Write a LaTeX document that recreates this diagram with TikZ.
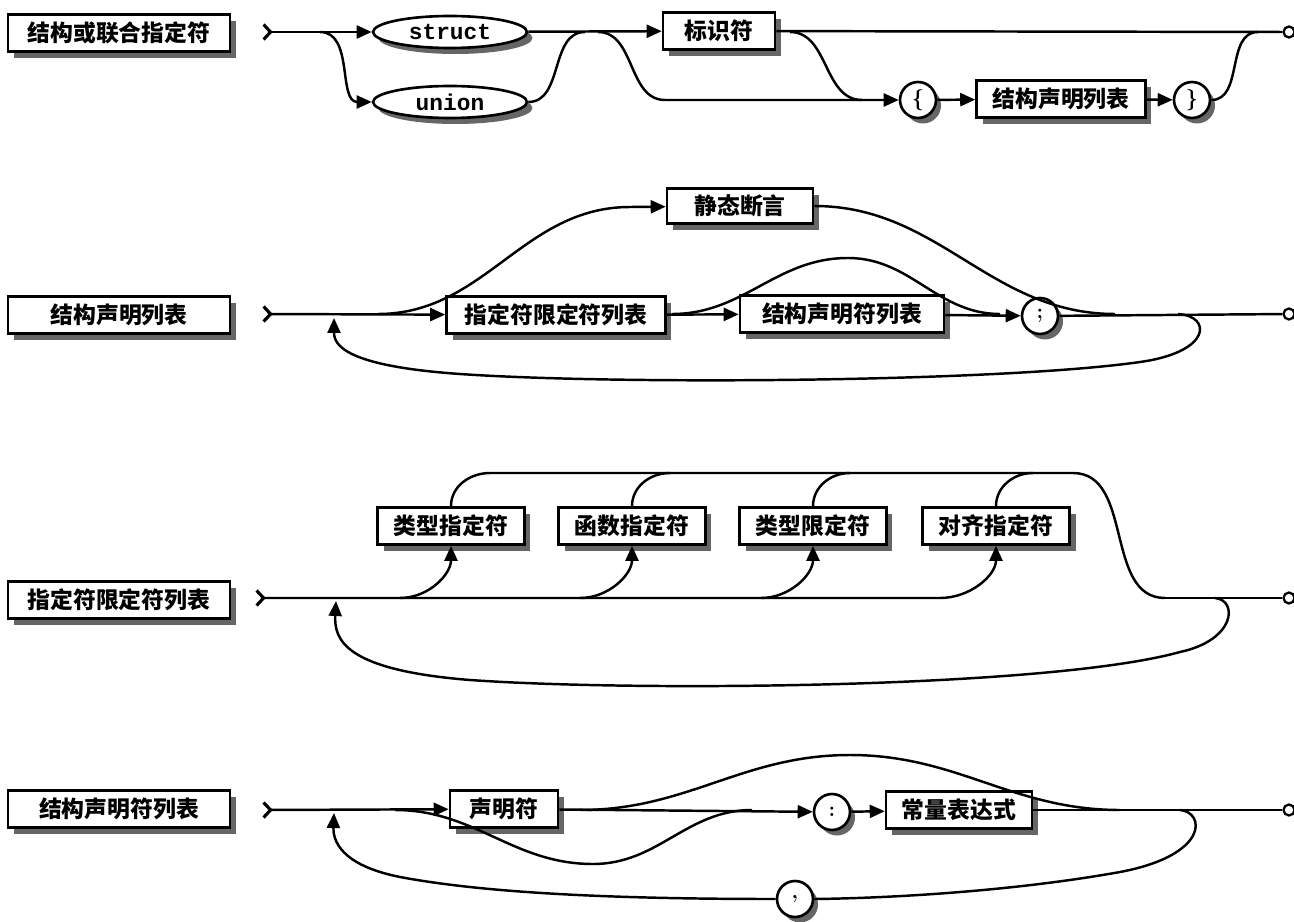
\documentclass[tikz,border=0pt]{standalone}
\usepackage{fontspec}
\usepackage{tikz}
\usetikzlibrary{arrows.meta, shapes.geometric, shadows}
\newfontfamily\cjk{Noto Sans CJK SC}
\setmonofont{Liberation Mono}
\tikzstyle{nonterm} = [rectangle, draw, line width=1.5pt, fill=white,
  minimum height=0.74cm, inner sep=2pt, font=\cjk\bfseries\fontsize{13}{15}\selectfont,
  drop shadow={shadow xshift=0.12cm, shadow yshift=-0.13cm, fill=black!60, opacity=1}]
\tikzstyle{kw} = [ellipse, draw, line width=1.5pt, fill=white,
  minimum width=3.08cm, minimum height=0.64cm, inner sep=0pt,
  font=\ttfamily\bfseries\fontsize{13}{15}\selectfont,
  drop shadow={shadow xshift=0.11cm, shadow yshift=-0.12cm, fill=black!60, opacity=1}]
\tikzstyle{tok} = [circle, draw, line width=1.5pt, fill=white,
  minimum size=0.72cm, inner sep=0pt, font=\bfseries\fontsize{12}{14}\selectfont,
  drop shadow={shadow xshift=0.1cm, shadow yshift=-0.11cm, fill=black!60, opacity=1}]
\tikzstyle{endmark} = [circle, draw, line width=1.3pt, fill=white,
  minimum size=0.22cm, inner sep=0pt]
\tikzstyle{conn} = [line width=1.4pt]
\tikzstyle{arrow} = [line width=1.4pt, -{Triangle[length=3mm,width=2.6mm]}]
\tikzstyle{startline} = [line width=1.4pt,
  {Straight Barb[reversed,length=1.4mm,width=3mm,line width=1.8pt]}-{Triangle[length=3mm,width=2.6mm]}]

\begin{document}
\begin{tikzpicture}[x=0.02cm, y=-0.02cm]
  \useasboundingbox (0,0) rectangle (1294,922);

  % struct-or-union-specifier
  \node[nonterm, minimum width=4.44cm] (t1) at (119,33) {结构或联合指定符};
  \node[kw] (struct) at (450,32) {struct};
  \node[kw] (union) at (450,102) {union};
  \node[nonterm, minimum width=2.24cm] (ident) at (719,31) {标识符};
  \node[tok] (lbrace) at (918,100) {\{};
  \node[nonterm, minimum width=3.38cm] (sdl1) at (1061,99) {结构声明列表};
  \node[tok] (rbrace) at (1192,100) {\}};
  \node[endmark] (e1) at (1289,32) {};
  \coordinate (s1) at (262,32);
  \coordinate (b1) at (320,32);
  \coordinate (j1) at (585,32);
  \coordinate (b2) at (598,32);
  \coordinate (c2) at (665,100);
  \coordinate (b3) at (790,32);
  \coordinate (j2) at (862,100);
  \coordinate (j3) at (1258,32);
  \draw[startline] (s1) -- (struct);
  \draw[arrow] (b1) to[out=0,in=180] (union.west);
  \draw[arrow] (struct) -- (ident);
  \draw[conn] (union.east) to[out=0,in=180] (j1);
  \draw[arrow] (b2) to[out=0,in=180] (c2) -- (lbrace);
  \draw[conn] (ident) -- (e1);
  \draw[conn] (b3) to[out=0,in=180] (j2);
  \draw[arrow] (lbrace) -- (sdl1);
  \draw[arrow] (sdl1) -- (rbrace);
  \draw[conn] (rbrace.east) to[out=0,in=180] (j3);

  % struct-declaration-list
  \node[nonterm, minimum width=4.44cm] (t2) at (119,315) {结构声明列表};
  \node[nonterm, minimum width=4.38cm] (sql2) at (556,315) {指定符限定符列表};
  \node[nonterm, minimum width=2.92cm, minimum height=0.7cm] (sa) at (740,206) {静态断言};
  \node[nonterm, minimum width=4.08cm] (sdcl2) at (842,314) {结构声明符列表};
  \node[tok] (semi) at (1040,316) {;};
  \node[endmark] (e2) at (1289,314) {};
  \coordinate (s2) at (262,314);
  \coordinate (b4) at (378,314);
  \coordinate (c4) at (630,207);
  \coordinate (j4) at (1115,314);
  \coordinate (b5) at (672,314);
  \coordinate (top5) at (848,258);
  \coordinate (j5) at (1000,314);
  \coordinate (lp2) at (1178,314);
  \coordinate (r2) at (334,318);
  \draw[startline] (s2) -- (sql2);
  \draw[arrow] (b4) to[out=0,in=180] (c4) -- (sa);
  \draw[conn] (sa.east) to[out=0,in=180] (j4);
  \draw[arrow] (sql2) -- (sdcl2);
  \draw[conn] (b5) to[out=0,in=180] (top5) to[out=0,in=180] (j5);
  \draw[arrow] (sdcl2) -- (semi);
  \draw[conn] (semi) -- (e2);
  \draw[arrow] (lp2) .. controls (1212,316) and (1212,352) .. (1140,362)
    .. controls (1000,382) and (620,385) .. (460,374)
    .. controls (345,366) and (334,345) .. (r2);

  % specifier-qualifier-list
  \node[nonterm, minimum width=4.44cm] (t3) at (119,600) {指定符限定符列表};
  \node[nonterm, minimum width=2.94cm] (ts) at (451,526) {类型指定符};
  \node[nonterm, minimum width=2.94cm] (fs) at (632,526) {函数指定符};
  \node[nonterm, minimum width=2.94cm] (tq) at (813,526) {类型限定符};
  \node[nonterm, minimum width=2.94cm] (as) at (996,526) {对齐指定符};
  \node[endmark] (e3) at (1289,598) {};
  \coordinate (s3) at (255,598);
  \coordinate (b6) at (400,598);
  \coordinate (b7) at (580,598);
  \coordinate (b8) at (761,598);
  \coordinate (b9) at (940,598);
  \coordinate (k1) at (490,473);
  \coordinate (k2) at (670,473);
  \coordinate (k3) at (850,473);
  \coordinate (k4) at (1033,473);
  \coordinate (k5) at (1073,473);
  \coordinate (j6) at (1165,598);
  \coordinate (lp3) at (1215,598);
  \coordinate (r3) at (336,601);
  \draw[startline] (s3) -- (b9) to[out=0,in=-90] (as.south);
  \draw[arrow] (b6) to[out=0,in=-90] (ts.south);
  \draw[arrow] (b7) to[out=0,in=-90] (fs.south);
  \draw[arrow] (b8) to[out=0,in=-90] (tq.south);
  \draw[conn] (ts.north) to[out=90,in=180] (k1) -- (k5) to[out=0,in=180] (j6);
  \draw[conn] (fs.north) to[out=90,in=180] (k2);
  \draw[conn] (tq.north) to[out=90,in=180] (k3);
  \draw[conn] (as.north) to[out=90,in=180] (k4);
  \draw[conn] (j6) -- (e3);
  \draw[arrow] (lp3) .. controls (1238,600) and (1236,640) .. (1180,652)
    .. controls (1050,688) and (640,692) .. (470,680)
    .. controls (345,670) and (334,640) .. (r3);

  % struct-declarator-list
  \node[nonterm, minimum width=4.44cm] (t4) at (119,809) {结构声明符列表};
  \node[nonterm, minimum width=2.16cm] (decl) at (504,809) {声明符};
  \node[tok] (colon) at (832,812) {:};
  \node[nonterm, minimum width=2.92cm] (cexp) at (959,810) {常量表达式};
  \node[tok] (comma) at (795,899) {,};
  \node[endmark] (e4) at (1289,810) {};
  \coordinate (s4) at (262,810);
  \coordinate (b10) at (395,810);
  \coordinate (low) at (593,864);
  \coordinate (j7) at (752,810);
  \coordinate (b11) at (580,810);
  \coordinate (top11) at (850,755);
  \coordinate (j8) at (1120,810);
  \coordinate (lp4) at (1180,810);
  \coordinate (r4) at (334,813);
  \draw[startline] (s4) -- (decl);
  \draw[conn] (b10) to[out=0,in=180] (low) to[out=0,in=180] (j7);
  \draw[arrow] (decl) -- (colon);
  \draw[conn] (b11) to[out=0,in=180] (top11) to[out=0,in=180] (j8);
  \draw[arrow] (colon) -- (cexp);
  \draw[conn] (cexp) -- (e4);
  \draw[conn] (lp4) .. controls (1205,812) and (1210,855) .. (1120,872)
    .. controls (1020,890) and (900,898) .. (comma.east);
  \draw[arrow] (comma.west) .. controls (600,899) and (480,892) .. (400,877)
    .. controls (340,865) and (333,840) .. (r4);
\end{tikzpicture}
\end{document}
